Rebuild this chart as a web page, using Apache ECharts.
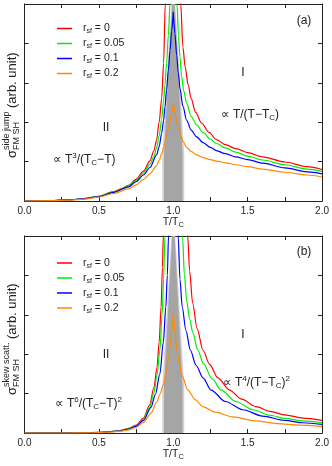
<!DOCTYPE html>
<html>
<head>
<meta charset="utf-8">
<script src="https://cdn.jsdelivr.net/npm/echarts@6/dist/echarts.min.js"></script>
<style>
html,body{margin:0;padding:0;background:#fff;}
#chart{width:332px;height:466px;}
</style>
</head>
<body>
<div id="chart"></div>
<script>
// ---- data ----
const seriesNames = ['r_sf = 0', 'r_sf = 0.05', 'r_sf = 0.1', 'r_sf = 0.2'];
const seriesColors = ['#ff0000', '#00ee00', '#0000ff', '#ff8a00'];
const xTicks = [0, 0.5, 1.0, 1.5, 2.0];

// (a) side jump
const sjRed = [[0,0],[0.2,0.01],[0.3,0.03],[0.4,0.06],[0.5,0.12],[0.6,0.24],[0.65,0.31],[0.7,0.4],[0.75,0.55],[0.8,0.76],[0.843,1.02],[0.87,1.28],[0.888,1.55],[0.905,2.0],[0.922,2.6],[0.935,3.5],[0.946,5.0],[0.95,5.6],[0.99,null],
  [1.045,5.6],[1.05,5.0],[1.065,3.9],[1.08,3.4],[1.1,2.95],[1.12,2.6],[1.15,2.25],[1.19,1.98],[1.24,1.74],[1.29,1.56],[1.35,1.43],[1.42,1.33],[1.5,1.23],[1.6,1.12],[1.75,0.99],[1.9,0.87],[2.0,0.8]];
const sjGreen = [[0,0],[0.2,0.01],[0.3,0.03],[0.4,0.06],[0.5,0.12],[0.6,0.23],[0.7,0.38],[0.75,0.52],[0.8,0.71],[0.843,0.93],[0.87,1.13],[0.888,1.35],[0.905,1.65],[0.922,2.08],[0.935,2.55],[0.944,2.95],[0.955,3.5],[0.967,4.2],[0.978,5.0],[0.982,5.35],[0.99,null],
  [1.02,5.5],[1.025,5.0],[1.035,4.2],[1.045,3.65],[1.056,3.16],[1.07,2.8],[1.09,2.48],[1.12,2.15],[1.157,1.93],[1.2,1.74],[1.25,1.57],[1.29,1.46],[1.35,1.35],[1.42,1.24],[1.5,1.14],[1.6,1.04],[1.75,0.92],[1.9,0.81],[2.0,0.75]];
const sjBlue = [[0,0],[0.2,0.01],[0.3,0.03],[0.4,0.06],[0.5,0.11],[0.6,0.22],[0.7,0.36],[0.75,0.49],[0.8,0.66],[0.843,0.85],[0.888,1.17],[0.905,1.38],[0.922,1.72],[0.935,2.05],[0.944,2.38],[0.955,2.82],[0.967,3.32],[0.978,3.82],[0.989,4.32],[1.0,4.8],[1.0,null],
  [1.0,4.8],[1.011,4.25],[1.023,3.7],[1.034,3.25],[1.045,2.85],[1.065,2.4],[1.09,2.05],[1.12,1.8],[1.157,1.63],[1.2,1.48],[1.25,1.36],[1.29,1.28],[1.35,1.2],[1.42,1.12],[1.5,1.05],[1.6,0.96],[1.75,0.84],[1.9,0.74],[2.0,0.69]];
const sjOrange = [[0,0],[0.2,0.01],[0.3,0.02],[0.4,0.05],[0.5,0.1],[0.6,0.19],[0.7,0.31],[0.75,0.41],[0.8,0.55],[0.843,0.69],[0.888,0.9],[0.905,1.03],[0.922,1.2],[0.935,1.36],[0.944,1.49],[0.955,1.65],[0.967,1.84],[0.978,2.03],[0.989,2.24],[1.0,2.48],[1.0,null],
  [1.0,2.48],[1.011,2.25],[1.023,2.02],[1.034,1.85],[1.05,1.65],[1.067,1.5],[1.09,1.36],[1.12,1.26],[1.157,1.17],[1.2,1.1],[1.25,1.05],[1.29,1.01],[1.35,0.97],[1.42,0.92],[1.5,0.87],[1.6,0.81],[1.75,0.73],[1.9,0.66],[2.0,0.61]];

// (b) skew scattering
const ssRed = [[0,0],[0.3,0],[0.4,0.005],[0.5,0.015],[0.6,0.045],[0.65,0.07],[0.7,0.12],[0.75,0.2],[0.8,0.38],[0.84,0.7],[0.87,1.15],[0.89,1.65],[0.905,2.3],[0.918,3.2],[0.927,4.2],[0.933,5.0],[0.937,5.6],[0.99,null],
  [1.09,5.6],[1.097,5.0],[1.11,4.1],[1.13,3.3],[1.16,2.65],[1.2,2.1],[1.243,1.75],[1.3,1.4],[1.378,1.09],[1.46,0.86],[1.556,0.67],[1.65,0.55],[1.75,0.46],[1.87,0.38],[2.0,0.32]];
const ssGreen = [[0,0],[0.3,0],[0.4,0.005],[0.5,0.014],[0.6,0.042],[0.65,0.065],[0.7,0.11],[0.75,0.18],[0.8,0.35],[0.84,0.64],[0.87,1.02],[0.89,1.45],[0.91,2.1],[0.925,3.0],[0.935,3.9],[0.944,5.0],[0.948,5.6],[0.99,null],
  [1.055,5.6],[1.062,5.0],[1.075,4.0],[1.09,3.35],[1.11,2.9],[1.131,2.55],[1.165,2.1],[1.203,1.76],[1.26,1.38],[1.322,1.09],[1.42,0.8],[1.534,0.59],[1.65,0.45],[1.75,0.37],[1.87,0.31],[2.0,0.26]];
const ssBlue = [[0,0],[0.3,0],[0.4,0.004],[0.5,0.013],[0.6,0.04],[0.65,0.062],[0.7,0.1],[0.75,0.17],[0.8,0.32],[0.85,0.65],[0.88,0.98],[0.91,1.5],[0.933,2.3],[0.95,3.2],[0.96,4.0],[0.968,5.0],[0.972,5.6],[0.99,null],
  [1.028,5.6],[1.033,5.0],[1.045,3.9],[1.06,3.2],[1.085,2.6],[1.115,2.1],[1.153,1.72],[1.2,1.4],[1.254,1.09],[1.35,0.8],[1.467,0.59],[1.6,0.43],[1.75,0.32],[1.87,0.26],[2.0,0.22]];
const ssOrange = [[0,0],[0.3,0],[0.4,0.003],[0.5,0.01],[0.6,0.03],[0.65,0.05],[0.7,0.08],[0.75,0.14],[0.8,0.27],[0.85,0.5],[0.888,0.78],[0.91,0.98],[0.933,1.22],[0.95,1.48],[0.967,1.85],[0.98,2.22],[0.99,2.6],[1.0,3.07],[1.0,null],
  [1.0,3.07],[1.01,2.6],[1.02,2.25],[1.03,1.98],[1.041,1.77],[1.06,1.45],[1.097,1.09],[1.15,0.84],[1.198,0.67],[1.28,0.53],[1.4,0.41],[1.55,0.31],[1.7,0.24],[1.85,0.2],[2.0,0.17]];

// grey critical region (polygon vertices, T and value)
const bandOuter = [[0.926,0],[0.926,1.2],[0.988,5],[1.013,5],[1.074,1.2],[1.074,0]];
const bandInner = [[0.938,0],[0.938,1.2],[0.992,5],[1.009,5],[1.062,1.2],[1.062,0]];

// ---- chart ----
const FONT = '"Liberation Sans", "DejaVu Sans", Arial, sans-serif';
const INK = '#222';
const chart = echarts.init(document.getElementById('chart'), null, {renderer: 'canvas'});

const G = [{left: 24.5, top: 4, width: 298, height: 197}, {left: 24.5, top: 236, width: 298, height: 197}];

function xAx(grid, pos) {
  const main = pos === 'bottom';
  return {
    gridIndex: grid, type: 'value', min: 0, max: 2, interval: 0.25, position: pos,
    axisLine: {show: true, onZero: false, lineStyle: {color: INK, width: 1}},
    axisTick: {show: true, inside: true, length: 4, lineStyle: {color: INK, width: 1}},
    splitLine: {show: false},
    axisLabel: {show: main, fontSize: 10, color: INK, fontFamily: FONT, margin: 5,
      formatter: v => xTicks.some(t => Math.abs(t - v) < 1e-6) ? v.toFixed(1) : ''},
    name: main ? '{a|T/T}{b|C}' : '', nameLocation: 'middle', nameGap: 13,
    nameTextStyle: {verticalAlign: 'top', rich: {
      a: {fontSize: 10.5, color: INK, fontFamily: FONT},
      b: {fontSize: 7.5, color: INK, fontFamily: FONT, padding: [6, 0, 0, 0]}}}
  };
}
function yAx(grid, pos) {
  return {
    gridIndex: grid, type: 'value', min: 0, max: 5, interval: 1, position: pos,
    axisLine: {show: true, onZero: false, lineStyle: {color: INK, width: 1}},
    axisTick: {show: true, inside: true, length: 4, lineStyle: {color: INK, width: 1}},
    axisLabel: {show: false}, splitLine: {show: false}
  };
}

function lineSeries(name, color, data, ax) {
  return {
    name: name, type: 'line', data: data, xAxisIndex: ax, yAxisIndex: ax,
    symbol: 'none', smooth: 0.3, smoothMonotone: 'x', connectNulls: false, clip: true, z: 3,
    lineStyle: {color: color, width: 1.2}, itemStyle: {color: color}, animation: false
  };
}
function bandSeries(poly, color, ax, z) {
  return {
    type: 'custom', xAxisIndex: ax, yAxisIndex: ax, data: [[1, 0]], silent: true, z: z, clip: true,
    renderItem: (params, api) => ({
      type: 'polygon',
      shape: {points: poly.map(p => api.coord(p))},
      style: {fill: color, stroke: null}
    })
  };
}

const topData = [sjRed, sjGreen, sjBlue, sjOrange];
const botData = [ssRed, ssGreen, ssBlue, ssOrange];

const series = [
  bandSeries(bandOuter, '#d2d2d2', 0, 1), bandSeries(bandInner, '#a5a5a5', 0, 2),
  bandSeries(bandOuter, '#d2d2d2', 2, 1), bandSeries(bandInner, '#a5a5a5', 2, 2)
];
seriesNames.forEach((n, i) => series.push(lineSeries(n, seriesColors[i], topData[i], 0)));
seriesNames.forEach((n, i) => series.push(lineSeries(n, seriesColors[i], botData[i], 2)));

function legend(top) {
  return {
    data: seriesNames, orient: 'vertical', left: 52, top: top, icon: 'rect',
    itemWidth: 15, itemHeight: 1.5, itemGap: 2, selectedMode: false,
    textStyle: {fontSize: 10.5, color: INK, fontFamily: FONT, padding: [0, 0, 0, 6],
      rich: {r: {fontSize: 10.5, color: INK, fontFamily: FONT, lineHeight: 12},
             s: {fontSize: 7, color: INK, fontFamily: FONT, lineHeight: 12, padding: [6, 0, 0, 0]}}},
    formatter: n => '{r|r}{s|sf}{r| = ' + n.split('= ')[1] + '}'
  };
}

function txt(x, y, text, size, align, rot) {
  return {type: 'text', x: x, y: y, rotation: rot || 0, silent: true,
    style: {text: text, fontSize: size, fill: INK, fontFamily: FONT,
      align: align || 'center', verticalAlign: 'middle'}};
}
function richTxt(x, y, text) {
  return {type: 'text', x: x, y: y, silent: true,
    style: {text: text, align: 'left', verticalAlign: 'middle', fill: INK,
      rich: {
        m: {fontSize: 12, fontFamily: FONT, fill: INK},
        p: {fontSize: 8, fontFamily: FONT, fill: INK, padding: [0, 0, 8, 0]},
        b: {fontSize: 8, fontFamily: FONT, fill: INK, padding: [6, 0, 0, 0]}
      }}};
}
// vertical y-axis title: sigma with stacked super/subscript
function yLabel(x, yBottom, sup, sub, supW) {
  const R = Math.PI / 2;
  return [
    txt(x, yBottom, 'σ', 13, 'left', R),
    txt(x - 5.5, yBottom - 8, sup, 9, 'left', R),
    txt(x + 4, yBottom - 8, sub, 9, 'left', R),
    txt(x, yBottom - 8 - supW - 3, '(arb. unit)', 13, 'left', R)
  ];
}

chart.setOption({
  animation: false,
  backgroundColor: '#fff',
  grid: G,
  xAxis: [xAx(0, 'bottom'), xAx(0, 'top'), xAx(1, 'bottom'), xAx(1, 'top')],
  yAxis: [yAx(0, 'left'), yAx(0, 'right'), yAx(1, 'left'), yAx(1, 'right')],
  legend: [legend(17), legend(251.5)],
  series: series,
  graphic: [].concat(
    yLabel(12.5, 158, 'side jump', 'FM SH', 39),
    yLabel(12.5, 395, 'skew scatt.', 'FM SH', 45),
    [
      txt(304, 21, '(a)', 12), txt(304, 252, '(b)', 12),
      txt(106, 128, 'II', 12), txt(243, 73, 'I', 12),
      txt(106, 355, 'II', 12), txt(243, 335, 'I', 12),
      richTxt(53, 160, '{m|∝ T}{p|3}{m|/(T}{b|C}{m|−T)}'),
      richTxt(221, 115, '{m|∝ T/(T−T}{b|C}{m|)}'),
      richTxt(55, 404, '{m|∝ T}{p|6}{m|/(T}{b|C}{m|−T)}{p|2}'),
      richTxt(223, 383, '{m|∝ T}{p|4}{m|/(T−T}{b|C}{m|)}{p|2}')
    ])
});
</script>
</body>
</html>
